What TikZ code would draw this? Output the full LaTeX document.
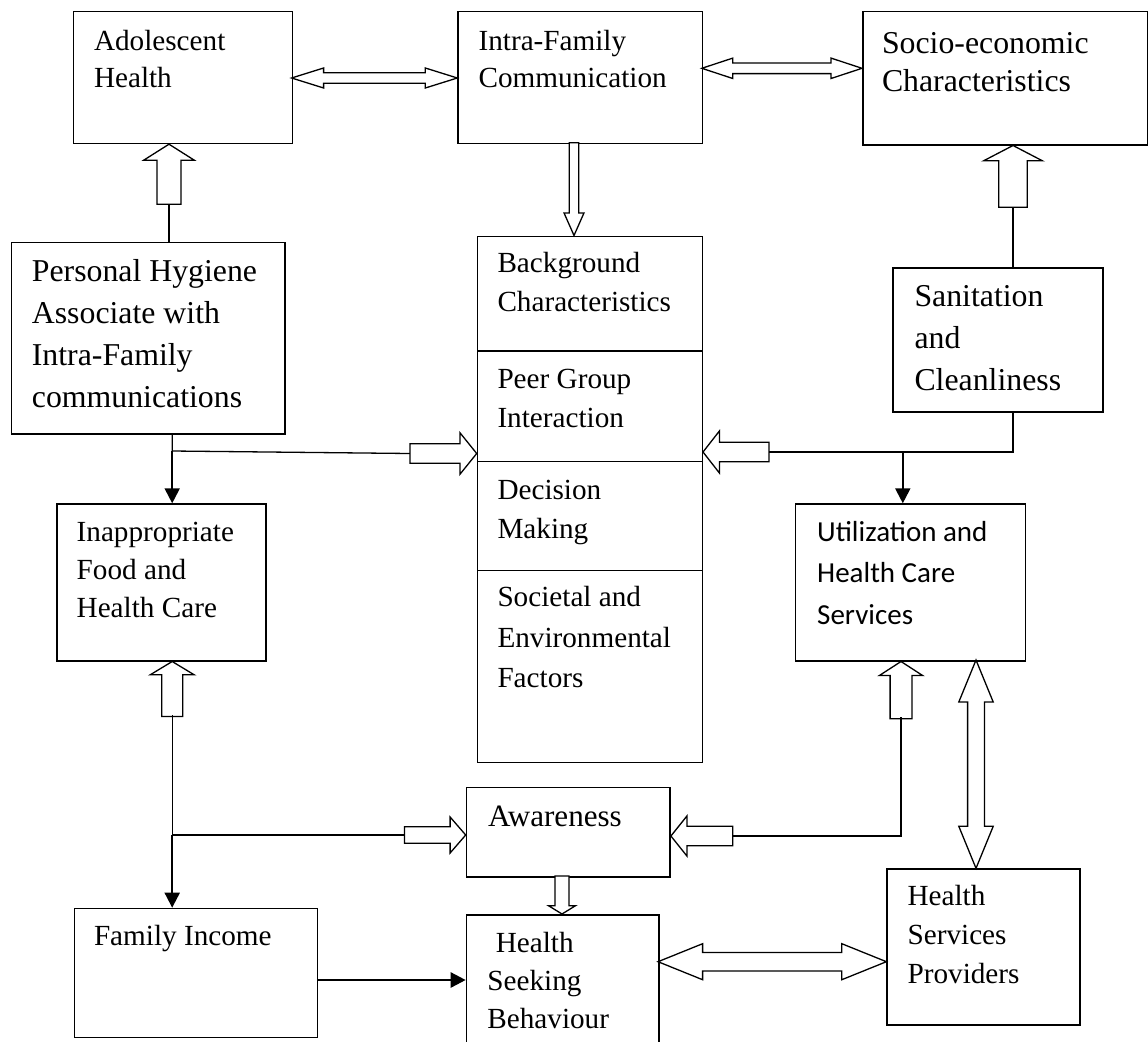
\documentclass[tikz,border=0pt]{standalone}
\usepackage{fontspec}
\setmainfont{Liberation Serif}
\newfontfamily\calibrifont{Carlito}
\usetikzlibrary{arrows.meta}

% hollow block arrows: tip, angle, length, shaft half, head half, head length
\newcommand{\openarrow}[6]{%
  \draw[hollow, shift={#1}, rotate=#2] (0,0) -- (-#6,#5) -- (-#6,#4) -- (-#3,#4)
    -- (-#3,-#4) -- (-#6,-#4) -- (-#6,-#5) -- cycle;}
\newcommand{\twinarrow}[6]{%
  \draw[hollow, shift={#1}, rotate=#2] (0,0) -- (-#6,#5) -- (-#6,#4) -- ({-#3+#6},#4)
    -- ({-#3+#6},#5) -- (-#3,0) -- ({-#3+#6},-#5) -- ({-#3+#6},-#4) -- (-#6,-#4)
    -- (-#6,-#5) -- cycle;}

\begin{document}
\begin{tikzpicture}[x=1pt,y=-1pt,
  box/.style={draw, line width=1.5pt, rectangle, inner sep=0pt, anchor=north west},
  txt/.style={inner sep=0pt, anchor=base west, align=left, font=\fontsize{29.2}{39}\selectfont},
  big/.style={font=\fontsize{31.8}{42}\selectfont},
  hollow/.style={draw, line width=1.3pt, fill=white, line join=miter},
  link/.style={line width=1.3pt},
  arrow/.style={-{Triangle[length=15pt,width=15pt]}, line width=2pt}
]
\useasboundingbox[fill=white] (0,0) rectangle (1148,1041);

% boxes
\node[box, minimum width=219pt, minimum height=132pt] (ado) at (72.7,10.7) {};
\node[box, minimum width=244.5pt, minimum height=132pt] (intra) at (457.3,10.7) {};
\node[box, minimum width=285pt, minimum height=133.3pt] (socio) at (862,10.7) {};
\node[box, minimum width=273.6pt, minimum height=191.3pt] (hyg) at (10.7,241.7) {};
\node[box, minimum width=224.8pt, minimum height=114.7pt] (bg1) at (476.7,235.5) {};
\node[box, minimum width=224.8pt, minimum height=110.3pt] (bg2) at (476.7,350.2) {};
\node[box, minimum width=224.8pt, minimum height=109pt] (bg3) at (476.7,460.5) {};
\node[box, minimum width=224.8pt, minimum height=192.2pt] (bg4) at (476.7,569.5) {};
\node[box, minimum width=210pt, minimum height=143.7pt] (sanit) at (892,267.3) {};
\node[box, minimum width=208.9pt, minimum height=156.7pt] (food) at (56.3,503.3) {};
\node[box, minimum width=230pt, minimum height=156.7pt] (util) at (794.8,503.3) {};
\node[box, minimum width=203.7pt, minimum height=89.3pt] (aware) at (465.7,786.7) {};
\node[box, minimum width=243pt, minimum height=129pt] (income) at (73.5,907.7) {};
\node[box, minimum width=192.3pt, minimum height=150pt] (seek) at (465.7,914) {};
\node[box, minimum width=192.6pt, minimum height=155.7pt] (prov) at (886.4,868.3) {};

% texts (anchored at the baseline of their last line)
\node[txt, font=\fontsize{29.2}{36.6}\selectfont] (adotext) at (93.8,87.3) {Adolescent\\Health};
\node[txt, font=\fontsize{29.2}{36.6}\selectfont] (intratext) at (478.4,87.3) {Intra-Family\\Communication};
\node[txt, font=\fontsize{31.8}{38.4}\selectfont] (sociotext) at (881.8,91.7) {Socio-economic\\Characteristics};
\node[txt, big] (hygtext) at (31.7,407.7) {Personal Hygiene\\Associate with\\Intra-Family\\communications};
\node[txt] (bgtext1) at (497.3,311) {Background\\Characteristics};
\node[txt] (bgtext2) at (497.3,427.5) {Peer Group\\Interaction};
\node[txt] (bgtext3) at (497.3,538) {Decision\\Making};
\node[txt, font=\fontsize{29.2}{40.5}\selectfont] (bgtext4) at (497.3,687.7) {Societal and\\Environmental\\Factors};
\node[txt, big] (sanittext) at (914.3,390.7) {Sanitation\\and\\Cleanliness};
\node[txt, font=\fontsize{29.2}{38}\selectfont] (foodtext) at (76.5,617.3) {Inappropriate\\Food and\\Health Care};
\node[txt, font=\calibrifont\fontsize{29}{41.5}\selectfont] (utiltext) at (817,624.3) {Utilization and\\Health Care\\Services};
\node[txt, font=\fontsize{31.1}{40}\selectfont] (awaretext) at (488,826.7) {Awareness};
\node[txt] (incometext) at (93.8,945.7) {Family Income};
\node[txt, font=\fontsize{29.2}{38.3}\selectfont] (seektext) at (487.2,1028.9) {\hspace{8.4pt}Health\\Seeking\\Behaviour};
\node[txt] (provtext) at (907.4,983.7) {Health\\Services\\Providers};

% top row
\twinarrow{(intra.west |- 0,78)}{0}{165.7}{5.3}{10}{32}
\twinarrow{(socio.west |- 0,68.3)}{0}{160.2}{5.3}{10.2}{31}

% hygiene to adolescent
\coordinate (hygtop) at (169,202.7);
\draw[link] (hyg.north -| hygtop) -- (hygtop);
\openarrow{(ado.south -| hygtop)}{90}{60}{12}{25.3}{16}

% intra-family to background
\openarrow{(bg1.north -| 574,0)}{-90}{92.8}{4.8}{10}{22.6}

% sanitation to socio-economic
\coordinate (santop) at (1013,205.7);
\draw[link] (sanit.north -| santop) -- (santop);
\openarrow{(socio.south -| santop)}{90}{61.7}{14.3}{29.4}{15.3}

% hygiene branch
\coordinate (hygjoin) at (172.2,451);
\coordinate (hygtail) at (410,453.5);
\draw[link] (hyg.south -| hygjoin) -- (hygjoin) -- (hygtail);
\openarrow{(bg2.west |- hygtail)}{0}{66.7}{9.7}{20.7}{16.7}
\draw[arrow] (hygjoin) -- (hygjoin |- food.north);

% sanitation branch
\coordinate (sanjoin) at (1013,452);
\coordinate (santail) at (767.4,452);
\coordinate (utiljoin) at (902.8,452);
\draw[link] (sanit.south -| sanjoin) -- (sanjoin) -- (santail);
\openarrow{(bg2.east |- santail)}{180}{65.9}{9.7}{21}{16.4}
\draw[arrow] (utiljoin) -- (utiljoin |- util.north);

% food branch
\coordinate (foodtail) at (172.2,715);
\coordinate (foodjoin) at (172.2,835);
\coordinate (awaretail) at (404.5,835);
\openarrow{(food.south -| foodtail)}{90}{55}{10.5}{22}{13.3}
\draw[link] (foodtail) -- (foodjoin) -- (awaretail);
\draw[arrow] (foodjoin) -- (foodjoin |- income.north);
\openarrow{(aware.west |- awaretail)}{0}{61.2}{8.3}{18}{15.6}

% utilization branch
\coordinate (utiltail) at (901,717.3);
\coordinate (utilturn) at (901,836);
\coordinate (awaretail2) at (731.2,836);
\openarrow{(util.south -| utiltail)}{90}{57.3}{10.9}{21.6}{14}
\draw[link] (utiltail) -- (utilturn) -- (awaretail2);
\openarrow{(aware.east |- awaretail2)}{180}{61.8}{9.7}{20}{16}

% utilization and providers
\twinarrow{(prov.north -| 976,0)}{-90}{208.3}{8.4}{17.2}{42}

% bottom row
\openarrow{(seek.north -| 562,0)}{-90}{38}{7}{13.5}{8.3}
\draw[arrow, line width=2.5pt] (income.east |- 0,980) -- (seek.west |- 0,980);
\twinarrow{(prov.west |- 0,961.7)}{0}{228.4}{9.2}{18}{44.6}
\end{tikzpicture}
\end{document}
